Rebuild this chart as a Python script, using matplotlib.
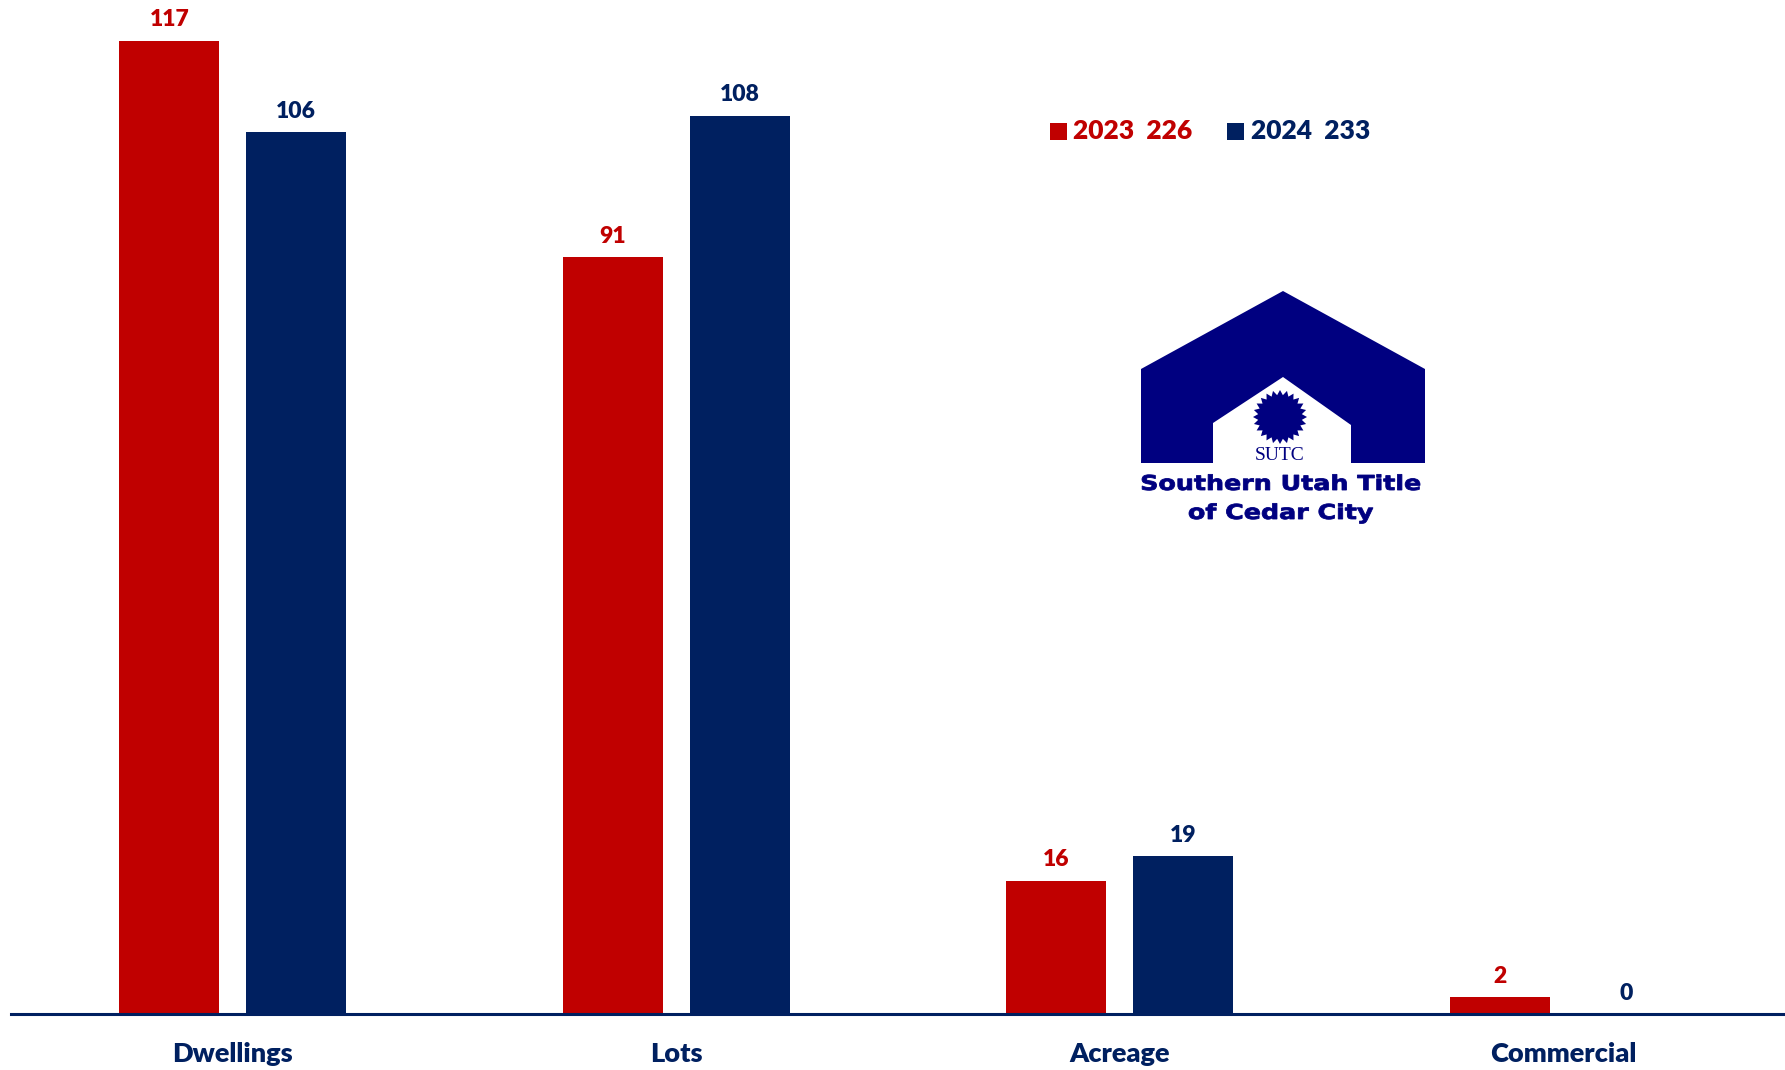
import matplotlib.pyplot as plt
import numpy as np
from matplotlib.patches import Polygon, Rectangle, PathPatch
from matplotlib.textpath import TextPath
from matplotlib.font_manager import FontProperties
from matplotlib.transforms import Affine2D

categories = ["Dwellings", "Lots", "Acreage", "Commercial"]
values_2023 = [117, 91, 16, 2]
values_2024 = [106, 108, 19, 0]
total_2023 = 226
total_2024 = 233

red = "#C00000"
blue = "#002060"
navy = "#000080"

plt.rcParams['font.family'] = ['Lato', 'DejaVu Sans']

fig = plt.figure(figsize=(17.85, 10.7), dpi=100)
ax = fig.add_axes([11 / 1785, 56 / 1070, 1 - 11 / 1785, 1 - 56 / 1070])

x = np.arange(len(categories))
w = 0.2256
off = 0.143
b1 = ax.bar(x - off, values_2023, w, color=red)
b2 = ax.bar(x + off, values_2024, w, color=blue)

for bars, vals, c in [(b1, values_2023, red), (b2, values_2024, blue)]:
    for b, v in zip(bars, vals):
        ax.annotate(str(v), (b.get_x() + b.get_width() / 2, v),
                    xytext=(0, 7.5), textcoords="offset points",
                    ha="center", va="bottom", color=c,
                    fontsize=16.5, fontweight="heavy")

ax.set_xlim(-0.5, 3.5)
ax.set_ylim(0, 121.9)
ax.set_yticks([])
ax.set_xticks(x)
ax.set_xticklabels(categories, fontsize=19.5, fontweight="heavy", color=blue)
ax.tick_params(axis="x", length=0, pad=20)
for s in ["top", "right", "left"]:
    ax.spines[s].set_visible(False)
ax.spines["bottom"].set_color(blue)
ax.spines["bottom"].set_linewidth(2.2)

# overlay in pixel coordinates for legend and logo
lg = fig.add_axes([0, 0, 1, 1], facecolor="none")
lg.set_xlim(0, 1785)
lg.set_ylim(1070, 0)
lg.axis("off")

lg.add_patch(Rectangle((1050, 123), 17, 17, color=red, lw=0))
lg.text(1073, 131, f"2023  {total_2023}", color=red, fontsize=19,
        fontweight="heavy", va="center", ha="left")
lg.add_patch(Rectangle((1227, 123), 17, 17, color=blue, lw=0))
lg.text(1251, 131, f"2024  {total_2024}", color=blue, fontsize=19,
        fontweight="heavy", va="center", ha="left")

house = [(1141, 463), (1141, 369), (1283, 291), (1425, 369), (1425, 463),
         (1351, 463), (1351, 425), (1283, 377), (1213, 423), (1213, 463)]
lg.add_patch(Polygon(house, closed=True, color=navy, lw=0))
n = 24
ang = np.linspace(0, 2 * np.pi, 2 * n, endpoint=False)
rad = np.where(np.arange(2 * n) % 2 == 0, 27, 22)
sun = np.column_stack([1280 + rad * np.cos(ang), 417 + rad * np.sin(ang)])
lg.add_patch(Polygon(sun, closed=True, color=navy, lw=0))
lg.text(1280, 455, "SUTC", ha="center", va="center", color=navy,
        fontsize=14, family="Liberation Serif")

# wide heavy logo lettering: stretch a text path horizontally
fp = FontProperties(family="DejaVu Sans", weight="bold")


def wide_text(s, cx, base, width, cap=15):
    tp = TextPath((0, 0), s, size=1, prop=fp)
    ext = tp.get_extents()
    sy = cap / 0.73
    sx = width / ext.width
    tr = Affine2D().translate(-ext.x0 - ext.width / 2, 0).scale(sx, -sy).translate(cx, base)
    lg.add_patch(PathPatch(tr.transform_path(tp), facecolor=navy,
                           edgecolor=navy, lw=0.6))


wide_text("Southern Utah Title", 1281, 490, 278)
wide_text("of Cedar City", 1281, 519, 184)

fig.savefig("out.png", dpi=100)
